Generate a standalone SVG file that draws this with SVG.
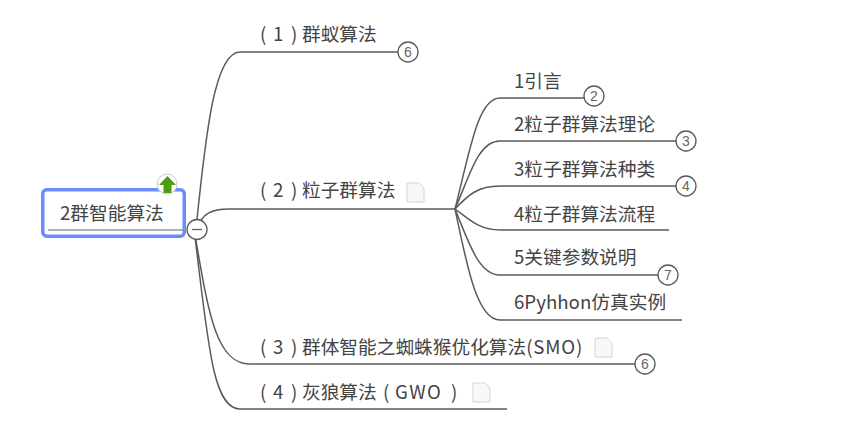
<svg xmlns="http://www.w3.org/2000/svg" width="853" height="442" viewBox="0 0 853 442">
<style>
text{font-family:"Noto Sans CJK SC","Noto Sans",sans-serif;font-size:18.7px;fill:#444}
.c{fill:none;stroke:#5a5a5a;stroke-width:1.5}
.b{fill:#fff;stroke:#5a5a5a;stroke-width:1.3}
.n{font-size:14px;text-anchor:middle;font-family:"Liberation Sans",sans-serif;fill:#666}
.d{fill:#f8f8f8;stroke:#d4d4d4;stroke-width:1}
</style>
<defs>
<g id="doc"><path class="d" d="M0 0H12L17 5V19H0Z"/></g>
</defs>
<rect width="853" height="442" fill="#fff"/>
<g id="connectors">
<path class="c" d="M196 229C206 130 215 52 240 52H408"/>
<path class="c" d="M197 229C202 214 210 209 230 209H455"/>
<path class="c" d="M194 229C208 310 215 364 250 364H645"/>
<path class="c" d="M194 229C208 340 212 409 240 409H507"/>
<path class="c" d="M455 209C470 150 478 98 500 98H594"/>
<path class="c" d="M455 209C470 175 478 141 500 141H686"/>
<path class="c" d="M455 209C468 195 478 186 500 186H686"/>
<path class="c" d="M455 209C468 218 478 230 500 230H669"/>
<path class="c" d="M455 209C468 240 478 275 500 275H668"/>
<path class="c" d="M455 209C466 260 476 320 500 320H682"/>
</g>
<g id="root">
<rect x="42.750" y="189.750" width="141.500" height="46.500" rx="4" fill="#fff" stroke="#6a8cff" stroke-width="3.500"/>
<path d="M48 230H183" stroke="#666" stroke-width="1.200"/>
<text x="60" y="220">2群智能算法</text>
<circle cx="167" cy="184" r="10" fill="#fff" stroke="#ccc"/>
<path d="M167.500 176L176 185H171.500V193H163.500V185H159Z" fill="#4f9e0f"/>
<circle cx="197" cy="229.500" r="10" class="b"/>
<path d="M192 229.500H202" stroke="#666" stroke-width="1.300"/>
</g>
<g id="n1"><text y="41"><tspan x="260">(</tspan><tspan x="273">1</tspan><tspan x="291">)</tspan><tspan x="302">群蚁算法</tspan></text><circle cx="408" cy="52" r="10" class="b"/><text class="n" x="408" y="57">6</text></g>
<g id="n2"><text y="197"><tspan x="260">(</tspan><tspan x="273">2</tspan><tspan x="291">)</tspan><tspan x="302">粒子群算法</tspan></text><use href="#doc" x="407" y="183"/></g>
<g id="n3"><text y="354"><tspan x="260">(</tspan><tspan x="273">3</tspan><tspan x="291">)</tspan><tspan x="302">群体智能之蜘蛛猴优化算法</tspan><tspan letter-spacing="0.800">(SMO)</tspan></text><use href="#doc" x="595" y="338"/><circle cx="645" cy="364" r="10" class="b"/><text class="n" x="645" y="369">6</text></g>
<g id="n4"><text y="399"><tspan x="260">(</tspan><tspan x="273">4</tspan><tspan x="291">)</tspan><tspan x="302">灰狼算法</tspan><tspan x="383">(</tspan><tspan x="395" letter-spacing="1.500">GWO</tspan><tspan x="451">)</tspan></text><use href="#doc" x="473" y="383"/></g>
<g id="s1"><text x="514" y="88">1引言</text><circle cx="594" cy="96" r="10" class="b"/><text class="n" x="594" y="101">2</text></g>
<g id="s2"><text x="514" y="131">2粒子群算法理论</text><circle cx="686" cy="141" r="10" class="b"/><text class="n" x="686" y="146">3</text></g>
<g id="s3"><text x="514" y="176">3粒子群算法种类</text><circle cx="686" cy="186" r="10" class="b"/><text class="n" x="686" y="191">4</text></g>
<g id="s4"><text x="514" y="221">4粒子群算法流程</text></g>
<g id="s5"><text x="514" y="264">5关键参数说明</text><circle cx="668" cy="275" r="10" class="b"/><text class="n" x="668" y="280">7</text></g>
<g id="s6"><text x="514" y="309">6Pyhhon仿真实例</text></g>
</svg>
